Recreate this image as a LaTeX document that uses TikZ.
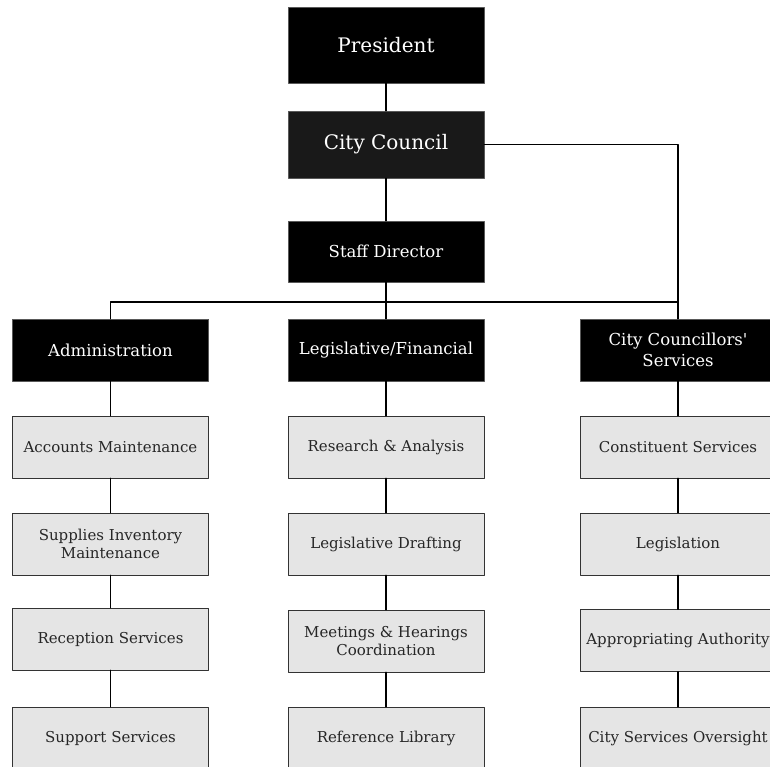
\documentclass[tikz,border=0pt]{standalone}
\usepackage{fontspec}
\setmainfont{DejaVu Serif}[Ligatures=TeXOff]
\begin{document}
\begin{tikzpicture}[x=1pt, y=-1pt, line cap=round, line join=round,
	box/.style={minimum width=196pt, minimum height=62pt, inner sep=0pt, align=center},
	head/.style={box, draw=black!65, fill=black, text=white, font=\fontsize{16.5}{21}\selectfont},
	top/.style={head, font=\fontsize{20}{24}\selectfont},
	unit/.style={box, draw=black!80, fill=black!10, text=black!85, font=\fontsize{15}{18}\selectfont},
	link/.style={line width=1.2pt}]
				\useasboundingbox (0,0) rectangle (770,767);
				\clip (0,0) rectangle (770,767);
				\node[top, minimum height=76pt] (president) at (386,45) {President};
				\node[top, minimum height=67pt, fill=black!90] (council) at (386,144.5) {City Council};
				\node[head, minimum height=61pt] (staff) at (386,251.5) {Staff Director};
				\coordinate (bus) at (386,302);
				\node[head] (admin) at (110.5,350) {Administration};
				\node[head] (legis) at (386,350) {Legislative/Financial};
				\node[head] (councillors) at (678,350) {City Councillors'\\Services};
				\node[unit] (admin1) at (110.5,447) {Accounts Maintenance};
				\node[unit] (admin2) at (110.5,544) {Supplies Inventory\\Maintenance};
				\node[unit] (admin3) at (110.5,639) {Reception Services};
				\node[unit] (admin4) at (110.5,738) {Support Services};
				\node[unit] (legis1) at (386,447) {Research \& Analysis};
				\node[unit] (legis2) at (386,544) {Legislative Drafting};
				\node[unit] (legis3) at (386,641) {Meetings \& Hearings\\Coordination};
				\node[unit] (legis4) at (386,738) {Reference Library};
				\node[unit] (councillors1) at (678,447) {Constituent Services};
				\node[unit] (councillors2) at (678,544) {Legislation};
				\node[unit] (councillors3) at (678,640.5) {Appropriating Authority};
				\node[unit] (councillors4) at (678,738) {City Services Oversight};
				\draw[link] (president) -- (council) (council) -- (staff);
				\draw[link] (staff.south) -- (bus);
				\draw[link] (council.east) -| (councillors.north);
				\draw[link] (admin.north) |- (bus) -- (bus -| councillors.north);
				\draw[link] (bus) -- (legis.north);
				\foreach \x in {admin, legis, councillors} {
					\draw[link] (\x) -- (\x1) (\x1) -- (\x2) (\x2) -- (\x3) (\x3) -- (\x4);
				}
\end{tikzpicture}
\end{document}
